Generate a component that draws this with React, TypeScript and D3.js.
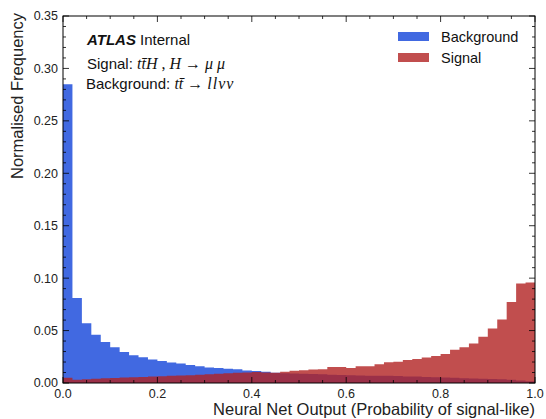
import React from 'react';
import * as d3 from 'd3';

const binEdges = d3.range(0, 51).map(i => i / 50);

const background = [
  0.285, 0.081, 0.057, 0.046, 0.039, 0.034, 0.0295, 0.0265, 0.0245, 0.0225,
  0.021, 0.0195, 0.0187, 0.0171, 0.0159, 0.0149, 0.0143, 0.0136, 0.013, 0.012,
  0.0114, 0.0108, 0.0098, 0.0092, 0.0091, 0.0089, 0.0086, 0.0083, 0.0079, 0.0077,
  0.0074, 0.0072, 0.007, 0.007, 0.0068, 0.0066, 0.0063, 0.0061, 0.0058, 0.0055,
  0.0052, 0.005, 0.0046, 0.0042, 0.004, 0.0038, 0.0035, 0.003, 0.0024, 0.0016,
];

const signal = [
  0.005, 0.003, 0.0035, 0.004, 0.0045, 0.0048, 0.0052, 0.0055, 0.0058, 0.0062,
  0.0064, 0.0068, 0.0071, 0.0074, 0.0079, 0.0084, 0.0088, 0.0092, 0.0097, 0.0101,
  0.0104, 0.01, 0.0098, 0.0108, 0.0117, 0.0121, 0.0128, 0.0131, 0.0152, 0.0152,
  0.0143, 0.0159, 0.016, 0.0178, 0.0197, 0.0203, 0.0219, 0.0228, 0.0244, 0.0257,
  0.0276, 0.0317, 0.034, 0.0377, 0.044, 0.052, 0.0606, 0.0773, 0.0948, 0.0958,
];

const yTicks = [0, 0.05, 0.1, 0.15, 0.2, 0.25, 0.3, 0.35];
const xTicks = [0, 0.2, 0.4, 0.6, 0.8, 1.0];

const W = 546;
const H = 419;
const m = { left: 63, right: 11, top: 16, bottom: 36 };
const font = '"Liberation Sans", Arial, sans-serif';
const mathFont = '"Liberation Serif", "DejaVu Serif", serif';
const blue = '#4169e1';
const red = '#b22222';

export default function App() {
  const x = d3.scaleLinear().domain([0, 1]).range([m.left, W - m.right]);
  const y = d3.scaleLinear().domain([0, 0.35]).range([H - m.bottom, m.top]);

  const area = d3.area<number>()
    .x((_, i) => x(binEdges[i]))
    .y0(y(0))
    .y1(d => y(d))
    .curve(d3.curveStepAfter);

  const stepPath = (vals: number[]) => area([...vals, vals[vals.length - 1]]) || '';

  const yMinor = d3.range(0, 36).map(i => i / 100);
  const xMinor = d3.range(0, 21).map(i => i / 20);
  const x0 = m.left, x1 = W - m.right, y0 = H - m.bottom, y1 = m.top;

  return (
    <svg width={W} height={H} style={{ position: 'absolute', left: 0, top: 0, background: '#fff' }}>
      <path d={stepPath(background)} fill={blue} />
      <path d={stepPath(signal)} fill={red} fillOpacity={0.8} />

      {/* ticks, inside, on all four sides */}
      <g stroke="#000" strokeWidth={0.8}>
        {yMinor.map((v, i) => {
          const len = i % 5 === 0 ? 6 : 3;
          return (
            <g key={'y' + i}>
              <line x1={x0} x2={x0 + len} y1={y(v)} y2={y(v)} />
              <line x1={x1} x2={x1 - len} y1={y(v)} y2={y(v)} />
            </g>
          );
        })}
        {xMinor.map((v, i) => {
          const len = i % 4 === 0 ? 6 : 3;
          return (
            <g key={'x' + i}>
              <line x1={x(v)} x2={x(v)} y1={y0} y2={y0 - len} />
              <line x1={x(v)} x2={x(v)} y1={y1} y2={y1 + len} />
            </g>
          );
        })}
      </g>
      <rect x={x0} y={y1} width={x1 - x0} height={y0 - y1} fill="none" stroke="#000" strokeWidth={1} />

      <g fontFamily={font} fontSize={12.5} fill="#222">
        {yTicks.map(v => (
          <text key={v} x={x0 - 5} y={y(v)} dy="0.35em" textAnchor="end">{v.toFixed(2)}</text>
        ))}
        {xTicks.map(v => (
          <text key={v} x={x(v)} y={y0 + 15} textAnchor="middle">{v.toFixed(1)}</text>
        ))}
      </g>

      <text x={x1} y={H - 4} textAnchor="end" fontFamily={font} fontSize={16.5} fill="#222">
        Neural Net Output (Probability of signal-like)
      </text>
      <text transform={`translate(23, ${y1 - 3}) rotate(-90)`} textAnchor="end" fontFamily={font} fontSize={16.5} fill="#222">
        Normalised Frequency
      </text>

      {/* annotations */}
      <g fontFamily={font} fontSize={15} fill="#111">
        <text x={87} y={45}>
          <tspan fontWeight="bold" fontStyle="italic">ATLAS</tspan>
          <tspan> Internal</tspan>
        </text>
        <text x={87} y={69}>
          <tspan>Signal: </tspan>
          <tspan fontFamily={mathFont} fontStyle="italic" fontSize={16}>t{'t\u0304'}H</tspan>
          <tspan fontFamily={mathFont} fontSize={16}> , </tspan>
          <tspan fontFamily={mathFont} fontStyle="italic" fontSize={16}>H</tspan>
          <tspan fontFamily={mathFont} fontSize={16}> → </tspan>
          <tspan fontFamily={mathFont} fontStyle="italic" fontSize={16}>μ μ</tspan>
        </text>
        <text x={86} y={89}>
          <tspan>Background: </tspan>
          <tspan fontFamily={mathFont} fontStyle="italic" fontSize={16}>t{'t\u0304'}</tspan>
          <tspan fontFamily={mathFont} fontSize={16}> → </tspan>
          <tspan fontFamily={mathFont} fontStyle="italic" fontSize={16} letterSpacing={1}>llνν</tspan>
        </text>
      </g>

      {/* legend */}
      <g fontFamily={font} fontSize={14.5} fill="#111">
        <rect x={398} y={32} width={31} height={9} fill={blue} />
        <text x={441} y={41.5}>Background</text>
        <rect x={398} y={53} width={31} height={9} fill={red} fillOpacity={0.8} />
        <text x={441} y={62.5}>Signal</text>
      </g>
    </svg>
  );
}
